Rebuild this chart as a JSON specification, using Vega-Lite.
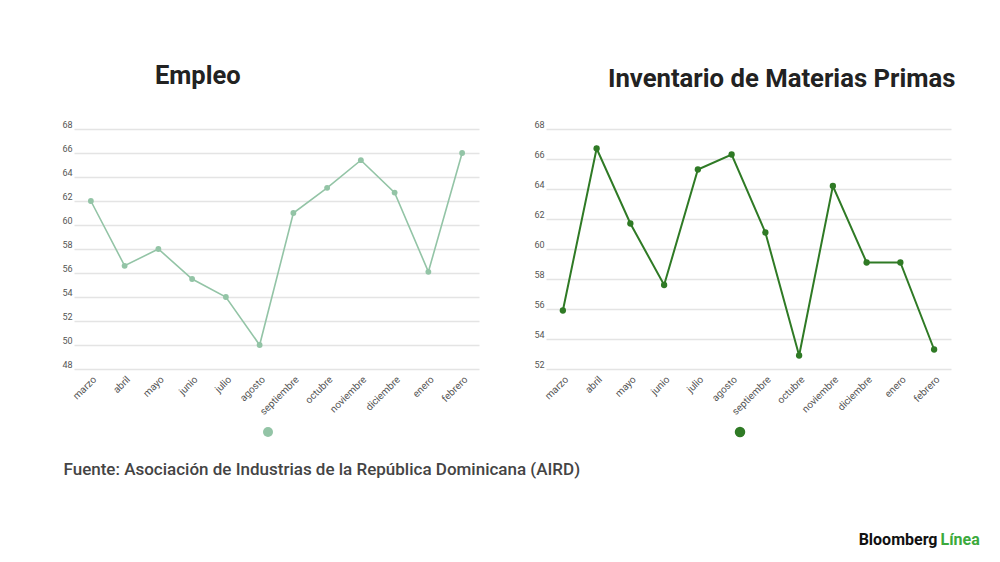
{
  "$schema": "https://vega.github.io/schema/vega-lite/v6.json",
  "background": "white",
  "padding": {"left": 61, "top": 63, "right": 5, "bottom": 5},
  "datasets": {
    "empleo": [
      {"mes": "marzo", "valor": 62.0, "serie": "Empleo"},
      {"mes": "abril", "valor": 56.6, "serie": "Empleo"},
      {"mes": "mayo", "valor": 58.0, "serie": "Empleo"},
      {"mes": "junio", "valor": 55.5, "serie": "Empleo"},
      {"mes": "julio", "valor": 54.0, "serie": "Empleo"},
      {"mes": "agosto", "valor": 50.0, "serie": "Empleo"},
      {"mes": "septiembre", "valor": 61.0, "serie": "Empleo"},
      {"mes": "octubre", "valor": 63.1, "serie": "Empleo"},
      {"mes": "noviembre", "valor": 65.4, "serie": "Empleo"},
      {"mes": "diciembre", "valor": 62.7, "serie": "Empleo"},
      {"mes": "enero", "valor": 56.1, "serie": "Empleo"},
      {"mes": "febrero", "valor": 66.0, "serie": "Empleo"}
    ],
    "inventario": [
      {"mes": "marzo", "valor": 55.9, "serie": "Inventario"},
      {"mes": "abril", "valor": 66.7, "serie": "Inventario"},
      {"mes": "mayo", "valor": 61.7, "serie": "Inventario"},
      {"mes": "junio", "valor": 57.6, "serie": "Inventario"},
      {"mes": "julio", "valor": 65.3, "serie": "Inventario"},
      {"mes": "agosto", "valor": 66.3, "serie": "Inventario"},
      {"mes": "septiembre", "valor": 61.1, "serie": "Inventario"},
      {"mes": "octubre", "valor": 52.9, "serie": "Inventario"},
      {"mes": "noviembre", "valor": 64.2, "serie": "Inventario"},
      {"mes": "diciembre", "valor": 59.1, "serie": "Inventario"},
      {"mes": "enero", "valor": 59.1, "serie": "Inventario"},
      {"mes": "febrero", "valor": 53.3, "serie": "Inventario"}
    ],
    "fuente": [
      {"texto": "Fuente: Asociación de Industrias de la República Dominicana (AIRD)"}
    ],
    "logo": [
      {"parte": "Bloomberg"},
      {"parte": "Línea"}
    ]
  },
  "vconcat": [
    {
      "hconcat": [
        {
          "width": 405,
          "height": 240,
          "title": {"text": "Empleo", "fontSize": 25.5, "anchor": "start", "dx": 93, "offset": 30.7},
          "data": {"name": "empleo"},
          "encoding": {
            "x": {
              "field": "mes",
              "type": "ordinal",
              "sort": null,
              "scale": {"type": "point", "padding": 0.5},
              "axis": {"title": null, "labelAngle": -45, "ticks": false, "domain": false, "grid": false, "labelFontSize": 10, "labelPadding": 5}
            },
            "y": {
              "field": "valor",
              "type": "quantitative",
              "scale": {"domain": [48, 68], "zero": false, "nice": false},
              "axis": {"title": null, "values": [48, 50, 52, 54, 56, 58, 60, 62, 64, 66, 68], "domain": false, "ticks": false, "labelBaseline": "bottom", "labelPadding": 2, "labelFontSize": 9}
            }
          },
          "layer": [
            {"mark": {"type": "line", "color": "#93c4a6", "strokeWidth": 1.6}},
            {
              "mark": {"type": "point", "filled": true, "size": 34, "opacity": 1},
              "encoding": {
                "color": {
                  "field": "serie",
                  "type": "nominal",
                  "scale": {"range": ["#93c4a6"]},
                  "legend": {"orient": "none", "legendX": 188, "legendY": 297, "title": null, "labelExpr": "''", "symbolSize": 100, "symbolType": "circle"}
                }
              }
            }
          ]
        },
        {
          "width": 405,
          "height": 240,
          "title": {"text": "Inventario de Materias Primas", "fontSize": 25.7, "anchor": "start", "dx": 74, "offset": 27.7},
          "data": {"name": "inventario"},
          "encoding": {
            "x": {
              "field": "mes",
              "type": "ordinal",
              "sort": null,
              "scale": {"type": "point", "padding": 0.5},
              "axis": {"title": null, "labelAngle": -45, "ticks": false, "domain": false, "grid": false, "labelFontSize": 10, "labelPadding": 5}
            },
            "y": {
              "field": "valor",
              "type": "quantitative",
              "scale": {"domain": [52, 68], "zero": false, "nice": false},
              "axis": {"title": null, "values": [52, 54, 56, 58, 60, 62, 64, 66, 68], "domain": false, "ticks": false, "labelBaseline": "bottom", "labelPadding": 2, "labelFontSize": 9}
            }
          },
          "layer": [
            {"mark": {"type": "line", "color": "#2f7a25", "strokeWidth": 2}},
            {
              "mark": {"type": "point", "filled": true, "size": 40, "opacity": 1},
              "encoding": {
                "color": {
                  "field": "serie",
                  "type": "nominal",
                  "scale": {"range": ["#2f7a25"]},
                  "legend": {"orient": "none", "legendX": 188, "legendY": 297, "title": null, "labelExpr": "''", "symbolSize": 110, "symbolType": "circle"}
                }
              }
            }
          ]
        }
      ],
      "spacing": 54,
      "resolve": {"scale": {"color": "independent"}}
    },
    {
      "hconcat": [
        {
          "width": 1,
          "height": 10,
          "data": {"name": "fuente"},
          "mark": {"type": "text", "align": "left", "baseline": "middle", "fontSize": 17, "fontWeight": 500, "color": "#444444", "dx": -11},
          "encoding": {"text": {"field": "texto", "type": "nominal"}}
        },
        {
          "width": 1,
          "height": 150,
          "data": {"name": "logo"},
          "layer": [
            {
              "transform": [{"filter": "datum.parte == 'Bloomberg'"}],
              "mark": {"type": "text", "align": "right", "baseline": "middle", "fontSize": 16, "fontWeight": "bold", "color": "#111111", "dx": -1},
              "encoding": {"text": {"field": "parte", "type": "nominal"}}
            },
            {
              "transform": [{"filter": "datum.parte == 'Línea'"}],
              "mark": {"type": "text", "align": "left", "baseline": "middle", "fontSize": 16, "fontWeight": "bold", "color": "#3caa3c", "dx": 2},
              "encoding": {"text": {"field": "parte", "type": "nominal"}}
            }
          ]
        }
      ],
      "spacing": 277
    }
  ],
  "spacing": 23,
  "config": {
    "font": "Roboto",
    "view": {"stroke": null},
    "title": {"color": "#222222", "fontWeight": "bold"},
    "axis": {"labelColor": "#555555", "gridColor": "#e4e4e4", "gridWidth": 1.5, "labelFont": "Roboto"}
  }
}
